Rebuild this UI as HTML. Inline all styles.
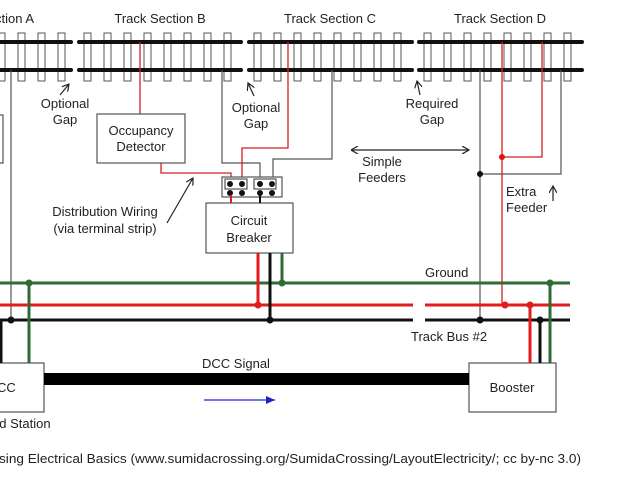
<!DOCTYPE html>
<html><head><style>
html,body{margin:0;padding:0;background:#fff;}
svg{display:block;}
text{font-family:"Liberation Sans",sans-serif;font-size:13px;fill:#222;}
</style></head><body>
<svg width="640" height="480" viewBox="0 0 640 480" xmlns="http://www.w3.org/2000/svg">
<defs>
<marker id="ah" markerWidth="8" markerHeight="8" refX="7" refY="4" orient="auto" markerUnits="userSpaceOnUse"><path d="M0,0 L7,4 L0,8" fill="none" stroke="#222" stroke-width="1.2"/></marker>
<marker id="ahs" markerWidth="8" markerHeight="8" refX="1" refY="4" orient="auto" markerUnits="userSpaceOnUse"><path d="M7,0 L0,4 L7,8" fill="none" stroke="#222" stroke-width="1.2"/></marker>
<marker id="bh" markerWidth="10" markerHeight="10" refX="9" refY="5" orient="auto" markerUnits="userSpaceOnUse"><path d="M0,1 L9,5 L0,9z" fill="#2020d0"/></marker>
</defs>
<g fill="#fff" stroke="#555" stroke-width="1">
<rect x="-2" y="33" width="7" height="48"/><rect x="18" y="33" width="7" height="48"/><rect x="38" y="33" width="7" height="48"/><rect x="58" y="33" width="7" height="48"/>
<rect x="84" y="33" width="7" height="48"/><rect x="104" y="33" width="7" height="48"/><rect x="124" y="33" width="7" height="48"/><rect x="144" y="33" width="7" height="48"/><rect x="164" y="33" width="7" height="48"/><rect x="184" y="33" width="7" height="48"/><rect x="204" y="33" width="7" height="48"/><rect x="224" y="33" width="7" height="48"/>
<rect x="254" y="33" width="7" height="48"/><rect x="274" y="33" width="7" height="48"/><rect x="294" y="33" width="7" height="48"/><rect x="314" y="33" width="7" height="48"/><rect x="334" y="33" width="7" height="48"/><rect x="354" y="33" width="7" height="48"/><rect x="374" y="33" width="7" height="48"/><rect x="394" y="33" width="7" height="48"/>
<rect x="424" y="33" width="7" height="48"/><rect x="444" y="33" width="7" height="48"/><rect x="464" y="33" width="7" height="48"/><rect x="484" y="33" width="7" height="48"/><rect x="504" y="33" width="7" height="48"/><rect x="524" y="33" width="7" height="48"/><rect x="544" y="33" width="7" height="48"/><rect x="564" y="33" width="7" height="48"/>
</g>
<g stroke="#111" stroke-width="4" stroke-linecap="round">
<line x1="0" y1="42" x2="71" y2="42"/><line x1="0" y1="70" x2="71" y2="70"/>
<line x1="79" y1="42" x2="241" y2="42"/><line x1="79" y1="70" x2="241" y2="70"/>
<line x1="249" y1="42" x2="412" y2="42"/><line x1="249" y1="70" x2="412" y2="70"/>
<line x1="419" y1="42" x2="582" y2="42"/><line x1="419" y1="70" x2="582" y2="70"/>
</g>
<text x="-5" y="23">ction A</text>
<text x="160" y="23" text-anchor="middle">Track Section B</text>
<text x="330" y="23" text-anchor="middle">Track Section C</text>
<text x="500" y="23" text-anchor="middle">Track Section D</text>
<g fill="none" stroke="#555" stroke-width="1.2">
<polyline points="11,70 11,320"/>
<polyline points="222,70 222,163 260,163 260,178"/>
<polyline points="332,70 332,159 273,159 273,178"/>
<polyline points="480,70 480,320"/>
<polyline points="480,174 561,174 561,70"/>
<rect x="-10" y="115" width="13" height="48"/>
</g>
<g fill="none" stroke="#d42020" stroke-width="1.3">
<polyline points="140,42 140,114"/>
<polyline points="161,163 161,173 231,173 231,183"/>
<polyline points="288,42 288,148 242,148 242,183"/>
<polyline points="502,42 502,304"/>
<polyline points="502,157 542,157 542,42"/>
</g>
<circle cx="502" cy="157" r="3" fill="#e01010"/>
<circle cx="480" cy="174" r="3" fill="#111"/>
<g fill="#fff" stroke="#555" stroke-width="1.2">
<rect x="97" y="114" width="88" height="49"/>
<rect x="206" y="203" width="87" height="50"/>
<rect x="222" y="177" width="60" height="20"/>
<rect x="225" y="179" width="22" height="10"/>
<rect x="254" y="179" width="22" height="10"/>
<rect x="-10" y="363" width="54" height="49"/>
<rect x="469" y="363" width="87" height="49"/>
</g>
<g fill="#111"><circle cx="230" cy="184" r="3"/><circle cx="242" cy="184" r="3"/><circle cx="260" cy="184" r="3"/><circle cx="272" cy="184" r="3"/><circle cx="230" cy="193" r="3"/><circle cx="242" cy="193" r="3"/><circle cx="260" cy="193" r="3"/><circle cx="272" cy="193" r="3"/></g>
<line x1="231" y1="195" x2="231" y2="203" stroke="#d42020" stroke-width="2"/>
<line x1="260" y1="195" x2="260" y2="203" stroke="#111" stroke-width="2"/>
<text x="141" y="135" text-anchor="middle">Occupancy</text>
<text x="141" y="151" text-anchor="middle">Detector</text>
<text x="249" y="225" text-anchor="middle">Circuit</text>
<text x="249" y="242" text-anchor="middle">Breaker</text>
<text x="512" y="392" text-anchor="middle">Booster</text>
<text x="-3" y="392">CC</text>
<text x="-8" y="428">nd Station</text>
<g stroke-width="3" fill="none">
<line x1="0" y1="283" x2="570" y2="283" stroke="#2e6b35"/>
<line x1="0" y1="305" x2="413" y2="305" stroke="#e01c1c"/>
<line x1="425" y1="305" x2="570" y2="305" stroke="#e01c1c"/>
<line x1="0" y1="320" x2="413" y2="320" stroke="#111"/>
<line x1="425" y1="320" x2="570" y2="320" stroke="#111"/>
<line x1="258" y1="253" x2="258" y2="305" stroke="#e01c1c"/>
<line x1="270" y1="253" x2="270" y2="320" stroke="#111"/>
<line x1="282" y1="253" x2="282" y2="283" stroke="#2e6b35"/>
<line x1="530" y1="305" x2="530" y2="363" stroke="#e01c1c"/>
<line x1="540" y1="320" x2="540" y2="363" stroke="#111"/>
<line x1="550" y1="283" x2="550" y2="363" stroke="#2e6b35"/>
<line x1="29" y1="283" x2="29" y2="363" stroke="#2e6b35"/>
<line x1="1" y1="320" x2="1" y2="363" stroke="#111"/>
</g>
<g>
<circle cx="258" cy="305" r="3.5" fill="#e01c1c"/><circle cx="270" cy="320" r="3.5" fill="#111"/><circle cx="282" cy="283" r="3.5" fill="#2e6b35"/>
<circle cx="530" cy="305" r="3.5" fill="#e01c1c"/><circle cx="505" cy="305" r="3.5" fill="#e01c1c"/><circle cx="540" cy="320" r="3.5" fill="#111"/><circle cx="550" cy="283" r="3.5" fill="#2e6b35"/>
<circle cx="480" cy="320" r="3.5" fill="#111"/><circle cx="11" cy="320" r="3.5" fill="#111"/><circle cx="29" cy="283" r="3.5" fill="#2e6b35"/>
</g>
<rect x="44" y="373" width="425" height="12" fill="#000"/>
<line x1="204" y1="400" x2="275" y2="400" stroke="#2020d0" stroke-width="1.3" marker-end="url(#bh)"/>
<text x="236" y="368" text-anchor="middle">DCC Signal</text>
<text x="425" y="277">Ground</text>
<text x="411" y="341">Track Bus #2</text>
<g stroke="#222" stroke-width="1.2" fill="none">
<line x1="60" y1="95" x2="69" y2="84" marker-end="url(#ah)"/>
<line x1="254" y1="96" x2="248" y2="83" marker-end="url(#ah)"/>
<line x1="420" y1="95" x2="417" y2="81" marker-end="url(#ah)"/>
<line x1="167" y1="223" x2="193" y2="178" marker-end="url(#ah)"/>
<line x1="352" y1="150" x2="469" y2="150" marker-start="url(#ahs)" marker-end="url(#ah)"/>
<line x1="553" y1="201" x2="553" y2="186" marker-end="url(#ah)"/>
</g>
<text x="65" y="108" text-anchor="middle">Optional</text>
<text x="65" y="124" text-anchor="middle">Gap</text>
<text x="256" y="112" text-anchor="middle">Optional</text>
<text x="256" y="128" text-anchor="middle">Gap</text>
<text x="432" y="108" text-anchor="middle">Required</text>
<text x="432" y="124" text-anchor="middle">Gap</text>
<text x="382" y="166" text-anchor="middle">Simple</text>
<text x="382" y="182" text-anchor="middle">Feeders</text>
<text x="506" y="196">Extra</text>
<text x="506" y="212">Feeder</text>
<text x="105" y="216" text-anchor="middle">Distribution Wiring</text>
<text x="105" y="233" text-anchor="middle">(via terminal strip)</text>
<text x="-1" y="463" textLength="582" lengthAdjust="spacingAndGlyphs">sing Electrical Basics (www.sumidacrossing.org/SumidaCrossing/LayoutElectricity/; cc by-nc 3.0)</text>
</svg>
</body></html>
